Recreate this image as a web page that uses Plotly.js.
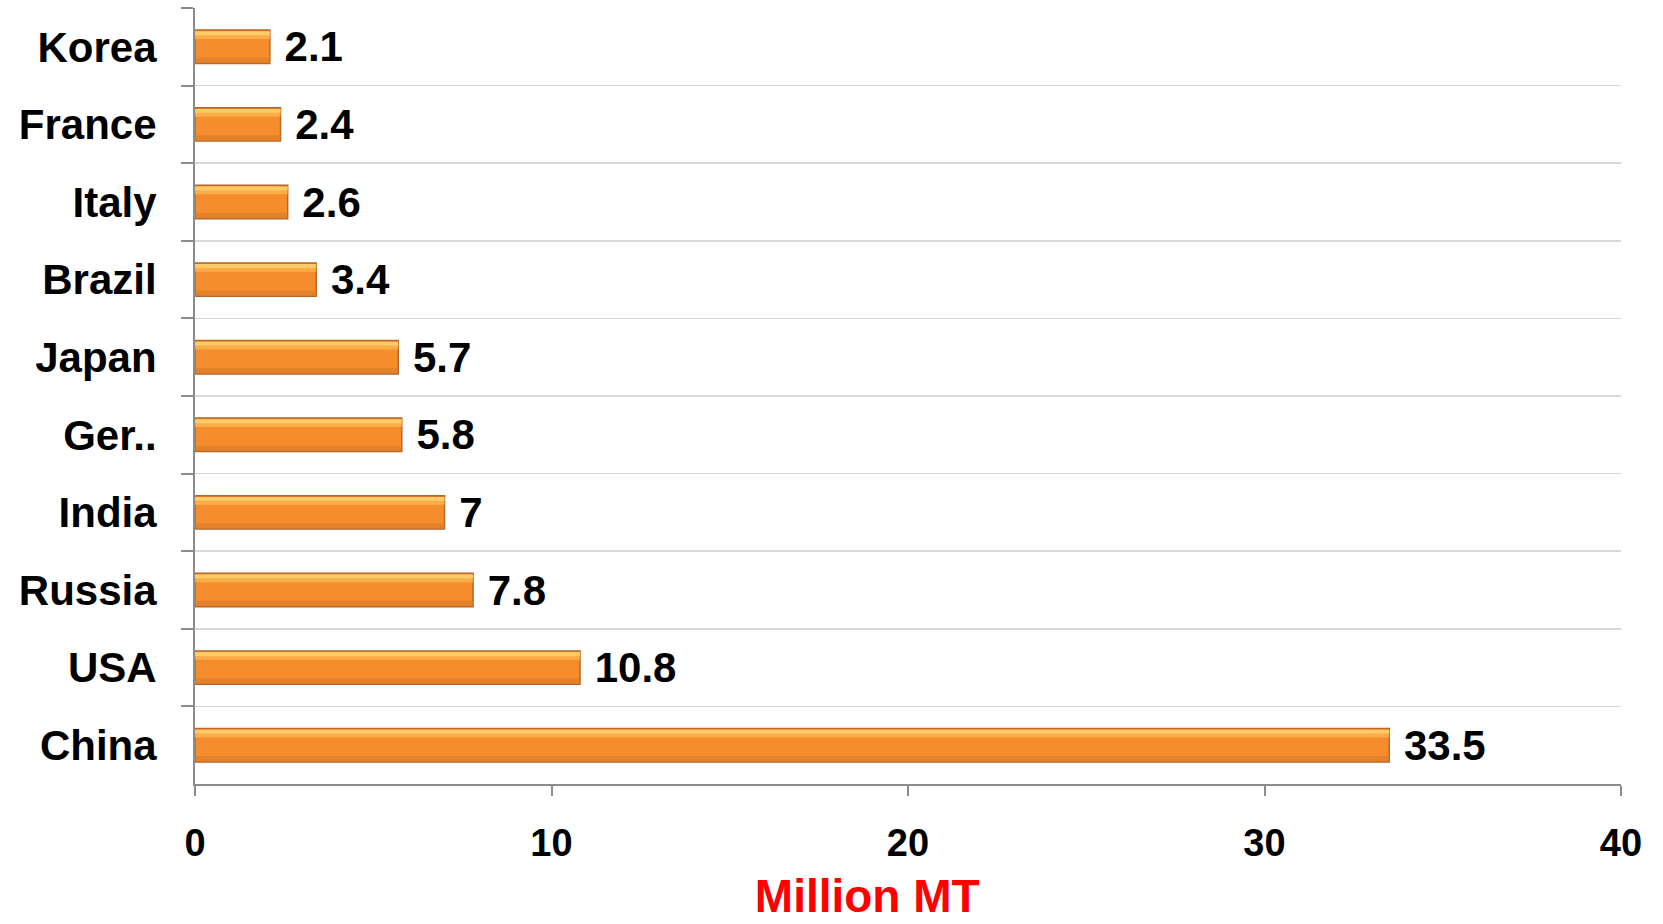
<!DOCTYPE html>
<html>
<head>
<meta charset="utf-8">
<script src="https://cdn.plot.ly/plotly-3.0.1.min.js"></script>
<style>
html,body{margin:0;padding:0;background:#fff;}
#chart{width:1663px;height:924px;}
</style>
</head>
<body>
<div id="chart"></div>
<script>
// Data (top to bottom as shown)
const countries = ["Korea", "France", "Italy", "Brazil", "Japan", "Ger..", "India", "Russia", "USA", "China"];
const production = [2.1, 2.4, 2.6, 3.4, 5.7, 5.8, 7, 7.8, 10.8, 33.5];
const xTickValues = [0, 10, 20, 30, 40];
const xTitle = "Million MT";

const FONT = "Liberation Sans, Arial, sans-serif";

const mainBar = {
  type: "bar",
  orientation: "h",
  x: production,
  y: countries,
  width: 0.43,
  marker: {color: "#F68D2C", line: {color: "#B8672A", width: 1.5}},
  text: production.map(v => "\u00a0" + v),
  textposition: "outside",
  constraintext: "none",
  cliponaxis: false,
  textfont: {family: FONT, size: 42, color: "#000", weight: 700},
  hoverinfo: "x+y",
  showlegend: false
};

const highlight = {
  type: "bar",
  orientation: "h",
  x: production,
  y: countries,
  width: 0.1,
  offset: -0.2,
  marker: {color: "#FDBB55", opacity: 0.7, line: {width: 0}},
  hoverinfo: "skip",
  showlegend: false
};

const highlight2 = {
  type: "bar",
  orientation: "h",
  x: production,
  y: countries,
  width: 0.05,
  offset: -0.2,
  marker: {color: "#FFD774", opacity: 0.7, line: {width: 0}},
  hoverinfo: "skip",
  showlegend: false
};

const shade = {
  type: "bar",
  orientation: "h",
  x: production,
  y: countries,
  width: 0.07,
  offset: 0.14,
  marker: {color: "#D67A2A", opacity: 0.55, line: {width: 0}},
  hoverinfo: "skip",
  showlegend: false
};

const layout = {
  width: 1663,
  height: 924,
  margin: {l: 195, r: 42, t: 8, b: 140},
  paper_bgcolor: "#ffffff",
  plot_bgcolor: "#ffffff",
  barmode: "overlay",
  font: {family: FONT, color: "#000"},
  title: {
    text: xTitle,
    font: {family: FONT, size: 46, color: "#FF0000", weight: 700},
    xref: "container", yref: "container",
    x: 0.5215, y: 0.03, xanchor: "center", yanchor: "middle"
  },
  xaxis: {
    range: [0, 40],
    tickvals: xTickValues,
    ticktext: xTickValues.map(String),
    showgrid: false,
    zeroline: false,
    showline: true,
    linecolor: "#8c8c8c",
    linewidth: 2,
    ticks: "outside",
    ticklen: 10,
    tickwidth: 2,
    tickcolor: "#8c8c8c",
    ticklabelstandoff: 14,
    tickfont: {family: FONT, size: 38, color: "#000", weight: 700},
    fixedrange: true
  },
  yaxis: {
    type: "category",
    autorange: "reversed",
    tickson: "boundaries",
    showgrid: true,
    gridcolor: "#d9d9d9",
    gridwidth: 1.5,
    showline: true,
    linecolor: "#8c8c8c",
    linewidth: 2,
    ticks: "outside",
    ticklen: 12,
    tickwidth: 2,
    tickcolor: "#8c8c8c",
    ticklabelstandoff: 28,
    tickfont: {family: FONT, size: 42, color: "#000", weight: 700},
    fixedrange: true
  }
};

Plotly.newPlot("chart", [mainBar, highlight, highlight2, shade], layout, {displayModeBar: false, staticPlot: true});
</script>
</body>
</html>
